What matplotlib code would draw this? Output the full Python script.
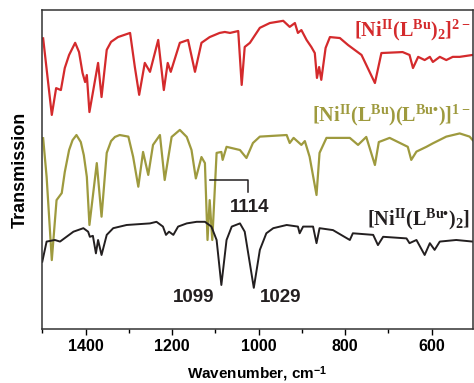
import matplotlib
matplotlib.use("Agg")
import matplotlib.pyplot as plt
from matplotlib.ticker import MultipleLocator

# mathtext in bold Times-like serif for the compound labels
plt.rcParams['mathtext.fontset'] = 'custom'
plt.rcParams['mathtext.rm'] = 'Liberation Serif:bold'
plt.rcParams['mathtext.it'] = 'Liberation Serif:bold'
plt.rcParams['mathtext.bf'] = 'Liberation Serif:bold'
plt.rcParams['mathtext.sf'] = 'Liberation Sans:bold'
plt.rcParams['font.family'] = ['Liberation Sans', 'DejaVu Sans']
plt.rcParams['font.weight'] = 'bold'

# spectra (wavenumber in cm-1, transmission in offset arbitrary units)
wn_red = [1498, 1478, 1468, 1457, 1448, 1438, 1424, 1415, 1407, 1401, 1397, 1391,
          1371, 1363, 1351, 1341, 1325, 1297, 1286, 1276, 1263, 1251, 1232, 1219,
          1210, 1203, 1182, 1163, 1147, 1132, 1113, 1090, 1078, 1066, 1047, 1039,
          1032, 1020, 997, 974, 943, 928, 916, 909, 901, 889, 878, 870, 865, 860,
          855, 845, 835, 812, 793, 778, 762, 731, 716, 667, 651, 643, 631, 616,
          604, 597, 581, 566, 551, 535, 520, 505]
t_red = [91.1, 67.1, 75.5, 74.9, 81.8, 85.9, 89.7, 86.8, 80.3, 77.4, 79.6, 68.0,
         83.4, 72.7, 87.5, 90.0, 91.5, 92.8, 82.1, 73.4, 83.4, 80.6, 90.6, 74.9,
         83.4, 80.6, 89.7, 90.6, 80.6, 89.7, 91.5, 92.8, 93.1, 92.8, 93.4, 76.5,
         88.4, 89.7, 94.4, 95.9, 96.6, 94.7, 95.9, 92.8, 93.7, 90.6, 88.4, 86.5,
         78.7, 82.1, 78.1, 88.1, 91.5, 91.2, 89.0, 87.5, 85.9, 77.1, 86.5, 86.8,
         85.9, 81.8, 85.3, 84.3, 85.3, 83.7, 85.3, 84.3, 85.3, 85.3, 85.6, 85.9]

wn_olive = [1498, 1490, 1478, 1467, 1455, 1448, 1438, 1430, 1421, 1411, 1404, 1397,
            1391, 1374, 1363, 1351, 1341, 1332, 1321, 1301, 1290, 1278, 1267, 1255,
            1244, 1228, 1217, 1201, 1182, 1166, 1155, 1145, 1132, 1124, 1118, 1113,
            1107, 1097, 1086, 1083, 1074, 1043, 1028, 1013, 997, 935, 928, 919, 901,
            893, 882, 866, 859, 843, 789, 770, 751, 731, 722, 697, 655, 647, 635,
            612, 597, 566, 535, 512, 505]
t_olive = [59.8, 47.7, 21.6, 40.4, 42.6, 49.2, 56.1, 59.2, 60.8, 58.6, 54.5, 47.7,
           32.6, 52.0, 35.2, 55.2, 58.9, 60.2, 60.8, 60.3, 54.0, 44.6, 55.5, 48.3,
           57.7, 60.8, 46.7, 60.2, 62.4, 60.2, 56.1, 47.2, 53.9, 52.0, 27.9, 40.4,
           27.9, 55.2, 55.5, 53.0, 57.1, 56.1, 53.6, 58.3, 60.3, 60.8, 58.3, 59.9,
           57.7, 58.9, 54.0, 42.0, 55.2, 59.9, 59.9, 57.7, 60.2, 51.4, 58.6, 59.9,
           57.1, 53.0, 55.6, 57.1, 58.2, 60.3, 61.3, 60.3, 59.2]

wn_black = [1500, 1490, 1471, 1459, 1444, 1428, 1405, 1394, 1390, 1383, 1376, 1371,
            1363, 1351, 1336, 1305, 1251, 1236, 1221, 1214, 1207, 1197, 1186, 1166,
            1143, 1124, 1109, 1097, 1086, 1074, 1062, 1043, 1032, 1011, 997, 982,
            966, 935, 909, 905, 897, 874, 866, 859, 828, 789, 782, 735, 724, 712,
            658, 651, 635, 616, 604, 593, 581, 543, 505]
t_black = [21.1, 27.4, 27.9, 27.4, 28.9, 30.5, 31.6, 30.5, 28.9, 29.2, 23.7, 27.9,
           23.2, 29.5, 31.6, 32.6, 33.1, 33.6, 32.1, 29.5, 30.5, 29.5, 32.1, 33.1,
           33.6, 33.6, 32.1, 27.9, 13.8, 27.9, 32.1, 33.1, 30.5, 12.9, 24.8, 30.0,
           31.6, 32.6, 32.1, 30.0, 32.1, 32.1, 26.9, 31.6, 31.0, 27.9, 30.0, 29.5,
           26.3, 28.9, 28.4, 26.9, 27.9, 23.2, 26.9, 24.8, 27.4, 27.9, 27.4]

labels = [r"$\mathrm{[Ni^{II}(L^{Bu})_2]^{2-}}$",
          r"$\mathrm{[Ni^{II}(L^{Bu})(L^{Bu•})]^{1-}}$",
          r"$\mathrm{[Ni^{II}(L^{Bu•})_2]}$"]
label_t = [91.8, 65.2, 32.6]
colors = ['#d42a2c', '#9e9a3e', '#231f20']

# band annotations
bracket_wn = [1112, 1025, 1025]
bracket_t = [46.7, 46.7, 42.9]
peak_text = ['1114', '1099', '1029']
peak_wn = [1020, 1149, 949]
peak_t = [38.2, 10.0, 10.0]

fig = plt.figure(figsize=(4.74, 3.83), dpi=100)
ax = fig.add_axes([0.0892, 0.141, 0.908, 0.833])

ax.plot(wn_red, t_red, color=colors[0], lw=1.6)
ax.plot(wn_olive, t_olive, color=colors[1], lw=1.6)
ax.plot(wn_black, t_black, color=colors[2], lw=1.4)

for lab, t, c in zip(labels, label_t, colors):
    ax.text(510, t, lab, color=c, fontsize=14.5, ha='right', va='baseline')

ax.plot(bracket_wn, bracket_t, color='#231f20', lw=1.1)
for s, w, t in zip(peak_text, peak_wn, peak_t):
    ax.text(w, t, s, fontsize=13.5, fontweight='bold', ha='center', va='center',
            color='#231f20')

ax.set_xlim(1500, 505)
ax.set_ylim(0, 100)
ax.set_yticks([])
ax.xaxis.set_major_locator(MultipleLocator(200))
ax.xaxis.set_minor_locator(MultipleLocator(100))
ax.tick_params(axis='x', which='major', direction='out', length=4.5, width=1,
               labelsize=11.5, pad=3)
ax.tick_params(axis='x', which='minor', direction='out', length=3, width=1)
for lab in ax.get_xticklabels():
    lab.set_fontweight('bold')
for sp in ax.spines.values():
    sp.set_linewidth(1.1)
    sp.set_color('#333333')

ax.set_xlabel(r"Wavenumber, cm$^{\mathsf{-1}}$", fontsize=11, fontweight='bold', labelpad=7)
ax.set_ylabel("Transmission", fontsize=13, fontweight='bold', labelpad=10)

fig.savefig("out.png", dpi=100)
